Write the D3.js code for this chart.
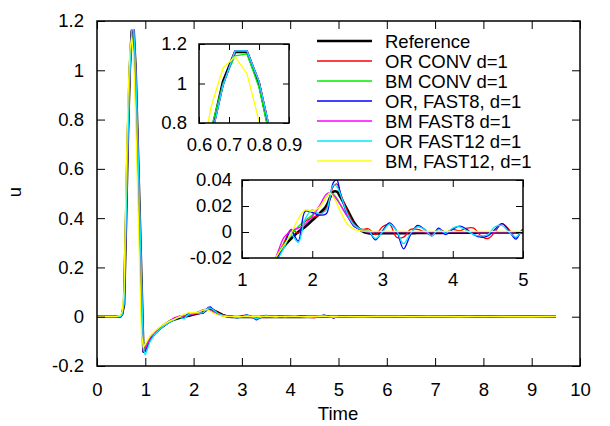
<!DOCTYPE html>
<html>
<head>
<meta charset="utf-8">
<script src="https://cdn.jsdelivr.net/npm/d3@7"></script>
<style>
  body { margin: 0; background: #fff; }
  text { font-family: "Liberation Sans", Arial, sans-serif; }
</style>
</head>
<body>
<div id="chart"></div>
<script>
// sample times (denser around the pulse)
const times = [0, 0.4, 0.48, 0.52, 0.56, 0.6, 0.64, 0.68, 0.72, 0.76, 0.8, 0.84, 0.88, 0.92, 0.96, 1.0,
  1.1, 1.2, 1.3, 1.4, 1.5, 1.6, 1.7, 1.8, 1.9, 2.0, 2.1, 2.2, 2.25, 2.3, 2.35, 2.4, 2.5, 2.6, 2.7, 2.8, 2.9, 3.0,
  3.1, 3.2, 3.3, 3.4, 3.5, 3.6, 3.7, 3.8, 3.9, 4.0, 4.1, 4.2, 4.3, 4.4, 4.5, 4.6, 4.7, 4.8, 4.9, 5.0,
  5.5, 6.0, 6.5, 7.0, 7.5, 8.0, 8.5, 9.0, 9.5];

const reference = [0, 0, 0, 0.01, 0.05, 0.38, 0.74, 1.01, 1.16, 1.16, 1.0, 0.72, 0.44, 0.15, -0.14, -0.13,
  -0.09, -0.066, -0.048, -0.033, -0.02, -0.011, -0.005, 0.0, 0.004, 0.009, 0.014, 0.02, 0.026, 0.031, 0.031, 0.027, 0.017, 0.007, 0.001, -0.001, -0.0012, -0.001,
  -0.001, -0.001, -0.0009, -0.0009, -0.0008, -0.0008, -0.0007, -0.0007, -0.0006, -0.0006, -0.0005, -0.0005, -0.0005, -0.0004, -0.0004, -0.0004, -0.0003, -0.0003, -0.0003, -0.0003,
  -0.0002, -0.0002, -0.0001, -0.0001, 0, 0, 0, 0, 0];

const orConv = [0, 0, 0, 0.01, 0.06, 0.37, 0.72, 0.99, 1.165, 1.165, 1.01, 0.74, 0.44, 0.14, -0.14, -0.135,
  -0.092, -0.066, -0.048, -0.033, -0.019, -0.008, 0.002, -0.001, 0.008, 0.011, 0.013, 0.018, 0.026, 0.035, 0.037, 0.03, 0.016, 0.006, 0.002, 0.0025, -0.002, 0.004,
  0.006, -0.004, -0.004, 0.002, 0.002, 0.0, -0.002, 0.002, 0.0, 0.002, 0.001, 0.003, 0.003, -0.003, -0.005, 0.0, 0.0065, 0.002, -0.0045, 0.001,
  0.003, -0.002, 0.002, -0.001, 0.002, -0.002, 0.001, 0.002, -0.001];

const bmConv = [0, 0, 0, 0.015, 0.07, 0.42, 0.77, 1.0, 1.14, 1.15, 0.98, 0.70, 0.42, 0.12, -0.135, -0.125,
  -0.085, -0.062, -0.045, -0.031, -0.018, -0.009, -0.002, 0.004, 0.009, 0.013, 0.019, 0.027, 0.03, 0.029, 0.026, 0.021, 0.012, 0.005, 0.001, 0.0, 0.0003, 0.0003,
  0.0003, 0.0003, 0.0003, 0.0003, 0.0003, 0.0003, 0.0003, 0.0003, 0.0003, 0.0003, 0.0003, 0.0003, 0.0003, 0.0003, 0.0003, 0.0003, 0.0003, 0.0003, 0.0003, 0.0003,
  0.0002, 0.0002, 0.0001, 0.0001, 0, 0, 0, 0, 0];

const orFast8 = [0, 0, 0, 0.008, 0.05, 0.37, 0.72, 0.99, 1.165, 1.165, 1.01, 0.74, 0.45, 0.16, -0.145, -0.14,
  -0.093, -0.067, -0.05, -0.034, -0.021, -0.01, 0.001, -0.007, 0.016, 0.015, 0.013, 0.014, 0.025, 0.038, 0.04, 0.03, 0.013, 0.004, 0.002, 0.001, -0.006, 0.001,
  0.007, 0.001, -0.013, -0.002, 0.005, 0.002, -0.003, 0.003, -0.002, 0.002, 0.0045, 0.002, -0.002, -0.004, -0.003, 0.002, 0.0065, 0.001, -0.0055, 0.002,
  -0.003, 0.002, -0.002, 0.001, -0.002, 0.003, -0.001, -0.002, 0.001];

const bmFast8 = [0, 0, 0, 0.012, 0.06, 0.37, 0.72, 0.99, 1.165, 1.165, 1.01, 0.74, 0.44, 0.14, -0.14, -0.13,
  -0.086, -0.063, -0.046, -0.031, -0.017, -0.004, 0.001, 0.003, 0.006, 0.012, 0.02, 0.029, 0.030, 0.028, 0.025, 0.021, 0.012, 0.005, 0.001, 0.0, 0.0002, 0.0002,
  0.0002, 0.0002, 0.0002, 0.0002, 0.0002, 0.0002, 0.0002, 0.0002, 0.0002, 0.0002, 0.0002, 0.0002, 0.0002, 0.0002, 0.0002, 0.0002, 0.0002, 0.0002, 0.0002, 0.0002,
  0.0001, 0.0001, 0.0001, 0, 0, 0, 0, 0, 0];

const orFast12 = [0, 0, 0, 0.008, 0.05, 0.37, 0.72, 0.99, 1.165, 1.165, 1.01, 0.74, 0.46, 0.17, -0.13, -0.155,
  -0.1, -0.07, -0.051, -0.035, -0.022, -0.012, -0.002, -0.008, 0.01, 0.017, 0.014, 0.017, 0.026, 0.036, 0.035, 0.029, 0.014, 0.005, 0.002, 0.001, -0.005, 0.0,
  0.006, 0.001, -0.009, -0.001, 0.004, 0.002, -0.003, 0.002, -0.001, 0.003, 0.004, 0.001, -0.002, -0.003, -0.002, 0.004, 0.005, 0.0, -0.004, 0.001,
  -0.002, 0.002, -0.001, 0.001, -0.002, 0.002, -0.001, -0.002, 0.001];

const bmFast12 = [0, 0, 0.005, 0.02, 0.10, 0.55, 0.88, 1.08, 1.135, 1.05, 0.81, 0.52, 0.22, -0.07, -0.125, -0.11,
  -0.078, -0.058, -0.042, -0.029, -0.018, -0.01, -0.001, 0.01, 0.017, 0.016, 0.019, 0.027, 0.030, 0.027, 0.022, 0.016, 0.006, 0.002, 0.0008, 0.0006, 0.0005, 0.0005,
  0.0005, 0.0005, 0.0005, 0.0005, 0.0005, 0.0005, 0.0005, 0.0005, 0.0005, 0.0005, 0.0005, 0.0005, 0.0005, 0.0005, 0.0005, 0.0005, 0.0005, 0.0005, 0.0005, 0.0005,
  0.0004, 0.0003, 0.0002, 0.0001, 0, 0, 0, 0, 0];

const seriesNames = ["Reference", "OR CONV d=1", "BM CONV d=1", "OR, FAST8, d=1", "BM FAST8 d=1", "OR FAST12 d=1", "BM, FAST12, d=1"];
const seriesValues = [reference, orConv, bmConv, orFast8, bmFast8, orFast12, bmFast12];
const seriesColors = ["#000000", "#ff0000", "#00ee00", "#0000ff", "#ff00ff", "#00e8ff", "#ffff00"];

// tick labels
const mainXTicks = [0, 1, 2, 3, 4, 5, 6, 7, 8, 9, 10];
const mainYTicks = [-0.2, 0, 0.2, 0.4, 0.6, 0.8, 1, 1.2];
const zoomPeakXTicks = [0.6, 0.7, 0.8, 0.9];
const zoomPeakYTicks = [0.8, 1, 1.2];
const zoomTailXTicks = [1, 2, 3, 4, 5];
const zoomTailYTicks = [-0.02, 0, 0.02, 0.04];

const series = seriesNames.map((name, i) => ({
  name,
  color: seriesColors[i],
  width: i === 0 ? 2.6 : 1.3,
  points: times.map((t, j) => [t, seriesValues[i][j]])
}));

const width = 610, height = 426;
const fontSize = 18.5;

const svg = d3.select("#chart")
  .append("svg")
  .attr("width", width)
  .attr("height", height);

const fmt = d => String(d);

function drawPanel(p) {
  const x = d3.scaleLinear().domain(p.xDomain).range([p.left, p.right]);
  const y = d3.scaleLinear().domain(p.yDomain).range([p.bottom, p.top]);
  const g = svg.append("g");

  g.append("rect")
    .attr("x", p.left).attr("y", p.top)
    .attr("width", p.right - p.left).attr("height", p.bottom - p.top)
    .attr("fill", "#fff");

  g.append("clipPath").attr("id", p.id)
    .append("rect")
    .attr("x", p.left).attr("y", p.top)
    .attr("width", p.right - p.left).attr("height", p.bottom - p.top);

  const line = d3.line()
    .x(d => x(d[0]))
    .y(d => y(d[1]))
    .curve(p.curve);

  g.append("g").attr("clip-path", `url(#${p.id})`)
    .selectAll("path")
    .data(series)
    .enter()
    .append("path")
    .attr("d", d => line(d.points))
    .attr("fill", "none")
    .attr("stroke", d => d.color)
    .attr("stroke-width", d => d.width)
    .attr("stroke-linejoin", "round");

  // ticks inward on all four sides
  const styleAxis = a => {
    a.select(".domain").remove();
    a.attr("font-size", fontSize).attr("font-family", '"Liberation Sans", Arial, sans-serif');
    a.selectAll("text").attr("fill", "#000");
    a.selectAll("line").attr("stroke", "#000");
  };
  g.append("g").attr("transform", `translate(0,${p.bottom})`)
    .call(d3.axisBottom(x).tickValues(p.xTicks).tickSizeInner(-p.tick).tickSizeOuter(0)
      .tickPadding(p.xPad).tickFormat(fmt))
    .call(styleAxis);
  g.append("g").attr("transform", `translate(0,${p.top})`)
    .call(d3.axisTop(x).tickValues(p.xTicks).tickSizeInner(-p.tick).tickSizeOuter(0).tickFormat(""))
    .call(styleAxis);
  g.append("g").attr("transform", `translate(${p.left},0)`)
    .call(d3.axisLeft(y).tickValues(p.yTicks).tickSizeInner(-p.tick).tickSizeOuter(0)
      .tickPadding(p.yPad).tickFormat(fmt))
    .call(styleAxis);
  g.append("g").attr("transform", `translate(${p.right},0)`)
    .call(d3.axisRight(y).tickValues(p.yTicks).tickSizeInner(-p.tick).tickSizeOuter(0).tickFormat(""))
    .call(styleAxis);

  g.append("rect")
    .attr("x", p.left).attr("y", p.top)
    .attr("width", p.right - p.left).attr("height", p.bottom - p.top)
    .attr("fill", "none")
    .attr("stroke", "#000")
    .attr("stroke-width", 1.5);

  return g;
}

// main plot
const main = drawPanel({
  id: "clipMain", left: 97, right: 580, top: 21, bottom: 366,
  xDomain: [0, 10], yDomain: [-0.2, 1.2],
  xTicks: mainXTicks, yTicks: mainYTicks,
  tick: 8, xPad: 17, yPad: 13, curve: d3.curveLinear
});

// legend
const legend = main.append("g");
series.forEach((s, i) => {
  const ly = 41 + i * 20;
  legend.append("line")
    .attr("x1", 317).attr("x2", 372)
    .attr("y1", ly).attr("y2", ly)
    .attr("stroke", s.color)
    .attr("stroke-width", s.width);
  legend.append("text")
    .attr("x", 385).attr("y", ly + 7)
    .attr("font-size", fontSize)
    .text(s.name);
});

// axis titles
svg.append("text")
  .attr("x", 338).attr("y", 420)
  .attr("text-anchor", "middle")
  .attr("font-size", fontSize)
  .text("Time");
svg.append("text")
  .attr("transform", "translate(21,192) rotate(-90)")
  .attr("text-anchor", "middle")
  .attr("font-size", fontSize)
  .text("u");

// inset: peak
drawPanel({
  id: "clipPeak", left: 199, right: 289, top: 44, bottom: 123,
  xDomain: [0.6, 0.9], yDomain: [0.8, 1.2],
  xTicks: zoomPeakXTicks, yTicks: zoomPeakYTicks,
  tick: 6, xPad: 15, yPad: 12, curve: d3.curveLinear
});

// inset: tail
drawPanel({
  id: "clipTail", left: 242, right: 523, top: 180, bottom: 258,
  xDomain: [1, 5], yDomain: [-0.02, 0.04],
  xTicks: zoomTailXTicks, yTicks: zoomTailYTicks,
  tick: 7, xPad: 15, yPad: 10, curve: d3.curveCatmullRom.alpha(0.5)
});
</script>
</body>
</html>
